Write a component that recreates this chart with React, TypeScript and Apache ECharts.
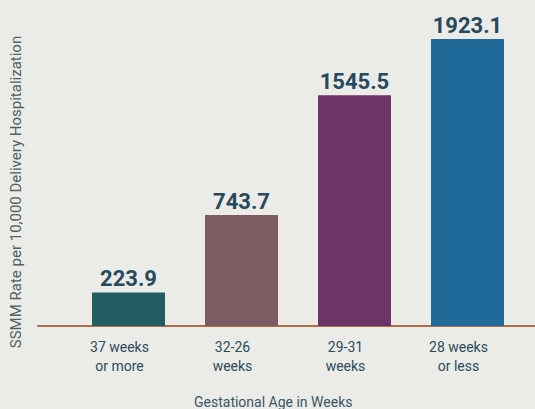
import React, { useEffect, useRef } from "react";
import * as echarts from "echarts";

const categories = ["37 weeks\nor more", "32-26\nweeks", "29-31\nweeks", "28 weeks\nor less"];
const values = [223.9, 743.7, 1545.5, 1923.1];
const barColors = ["#245c64", "#7e5a62", "#6c3566", "#1f6a98"];
const yAxisTitle = "SSMM Rate per 10,000 Delivery Hospitalization";
const xAxisTitle = "Gestational Age in Weeks";

const textColor = "#2d4b5b";
const font = "Roboto, 'Noto Sans', sans-serif";

export default function App() {
  const ref = useRef<HTMLDivElement>(null);
  useEffect(() => {
    if (!ref.current) return;
    const chart = echarts.init(ref.current, undefined, { renderer: "svg" });
    chart.setOption({
      animation: false,
      backgroundColor: "#ebebe7",
      textStyle: { fontFamily: font },
      grid: [
        { left: 72, right: 11, top: 39, bottom: 83 },
        { left: 38, right: 0, bottom: 83, height: 1 },
      ],
      title: {
        text: xAxisTitle,
        left: 189,
        top: 390,
        textStyle: { fontFamily: font, fontSize: 14, fontWeight: "normal", color: "#3a5666" },
      },
      graphic: [
        {
          type: "text",
          x: 16,
          y: 192,
          rotation: Math.PI / 2,
          style: {
            text: yAxisTitle,
            fontFamily: font,
            fontSize: 15,
            fill: "#4f5f66",
            textAlign: "center",
            textVerticalAlign: "middle",
          },
        },
      ],
      xAxis: [
        {
          type: "category",
          gridIndex: 0,
          data: categories,
          axisLine: { show: false },
          axisTick: { show: false },
          axisLabel: {
            color: textColor,
            fontSize: 14,
            lineHeight: 19,
            margin: 11,
            padding: [0, 18, 0, 0],
            fontFamily: font,
          },
        },
        {
          type: "value",
          gridIndex: 1,
          min: 0,
          max: 1,
          axisLine: { show: true, onZero: false, lineStyle: { color: "#b06c45", width: 2 } },
          axisTick: { show: false },
          axisLabel: { show: false },
          splitLine: { show: false },
        },
      ],
      yAxis: [
        { type: "value", gridIndex: 0, min: 0, max: 1923.1, show: false, splitLine: { show: false } },
        { type: "value", gridIndex: 1, show: false, splitLine: { show: false } },
      ],
      series: [
        {
          type: "bar",
          xAxisIndex: 0,
          yAxisIndex: 0,
          barWidth: 73,
          data: values.map((v, i) => ({ value: v, itemStyle: { color: barColors[i] } })),
          label: {
            show: true,
            position: "top",
            distance: 3,
            fontSize: 22,
            fontWeight: "bold",
            color: "#264a5c",
            fontFamily: font,
            formatter: (p: any) => p.value.toFixed(1),
          },
        },
      ],
    });
    return () => chart.dispose();
  }, []);
  return <div ref={ref} style={{ width: 535, height: 409, position: "fixed", left: 0, top: 0 }} />;
}
